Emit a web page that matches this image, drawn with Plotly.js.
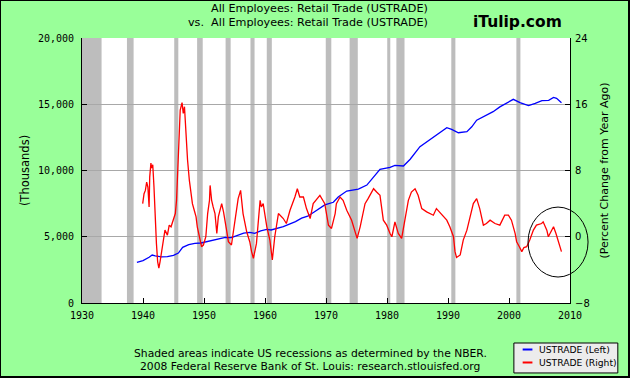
<!DOCTYPE html>
<html>
<head>
<meta charset="utf-8">
<script src="https://cdn.plot.ly/plotly-3.0.1.min.js"></script>
<style>
html,body{margin:0;padding:0;background:#99ff99;}
#wrap{position:relative;width:630px;height:378px;}
#chart{width:630px;height:378px;}
#frame{position:absolute;left:0;top:0;width:630px;height:378px;box-sizing:border-box;border:1px solid #000;border-right-width:2px;border-bottom-width:2px;pointer-events:none;}
</style>
</head>
<body>
<div id="wrap"><div id="chart"></div><div id="frame"></div></div>
<script>
// ---- Data ----
var levelYears = [1939.0,1940.0,1941.0,1941.5,1942.0,1943.0,1944.0,1945.0,1945.8,1946.5,1947.5,1948.5,1949.5,1950.5,1951.5,1952.5,1953.5,1954.5,1955.5,1956.5,1957.5,1958.3,1959.3,1960.3,1961.0,1962.0,1963.0,1964.0,1965.0,1966.0,1967.0,1968.0,1969.0,1969.8,1971.2,1972.0,1973.4,1974.5,1975.3,1976.7,1977.8,1978.85,1980.5,1981.3,1982.7,1983.8,1985.4,1987.0,1988.7,1989.8,1990.6,1991.7,1993.1,1993.9,1994.7,1995.8,1997.4,1998.5,1999.9,2000.7,2001.8,2003.2,2004.3,2005.4,2006.5,2007.3,2007.8,2008.6];
var levelValues = [3070,3200,3450,3620,3550,3480,3500,3600,3770,4200,4400,4500,4530,4650,4750,4850,4960,4930,5100,5280,5330,5260,5450,5560,5510,5620,5760,5950,6140,6400,6550,6850,7150,7400,7600,8000,8450,8530,8600,8900,9500,10090,10240,10390,10340,10850,11800,12300,12850,13230,13100,12850,12930,13300,13800,14060,14440,14800,15200,15370,15120,14900,15070,15270,15300,15520,15450,15120];

var pctYears = [1939.95,1940.17,1940.39,1940.6,1940.8,1941.0,1941.1,1941.3,1941.4,1941.6,1941.8,1942.0,1942.2,1942.4,1942.6,1942.8,1943.0,1943.3,1943.6,1944.0,1944.3,1944.6,1944.9,1945.3,1945.5,1945.7,1945.9,1946.1,1946.4,1946.6,1946.8,1946.9,1947.1,1947.3,1947.6,1947.8,1948.1,1948.4,1948.7,1948.9,1949.3,1949.6,1949.9,1950.3,1950.6,1950.9,1951.0,1951.25,1951.5,1951.8,1952.1,1952.35,1952.9,1953.2,1953.7,1954.0,1954.5,1955.1,1955.6,1956.0,1956.2,1956.4,1957.0,1957.5,1957.8,1958.1,1958.6,1959.2,1959.4,1959.7,1960.3,1960.8,1961.2,1961.6,1962.2,1963.0,1963.5,1964.1,1964.9,1965.3,1965.7,1966.3,1966.8,1967.4,1967.9,1968.5,1969.0,1969.8,1970.4,1970.9,1971.5,1971.7,1972.3,1972.8,1973.4,1974.2,1974.7,1975.1,1975.6,1976.4,1976.9,1977.8,1978.3,1978.85,1979.4,1979.95,1980.5,1980.8,1981.3,1981.85,1982.4,1982.95,1983.5,1984.0,1984.6,1985.1,1985.7,1986.5,1987.6,1988.1,1988.9,1989.8,1990.3,1990.9,1991.15,1991.4,1992.0,1992.5,1993.1,1993.6,1994.15,1994.7,1995.2,1995.8,1996.3,1996.9,1997.7,1998.5,1999.3,1999.9,2000.4,2001.0,2001.25,2001.7,2002.1,2002.45,2002.9,2003.4,2004.0,2004.5,2005.35,2005.6,2006.2,2006.45,2007.0,2007.3,2007.7,2008.1,2008.6];
var pctValues = [4.0,5.2,5.6,6.6,6.0,3.6,7.2,8.9,8.3,8.7,6.0,2.0,-0.8,-3.0,-3.8,-3.0,-2.0,-0.4,0.8,0.2,1.4,1.2,1.8,2.8,4.4,7.7,12.5,15.3,16.2,14.9,15.7,14.1,11.7,9.3,6.8,5.6,4.0,3.2,2.4,1.2,-0.4,-1.2,-1.0,0.0,2.8,4.4,6.2,4.4,3.6,2.8,0.4,2.4,4.0,3.0,0.8,-0.6,-1.0,2.0,4.6,5.6,4.4,2.8,0.6,-0.6,-1.8,-2.6,-0.8,4.4,3.6,4.0,1.2,-0.4,-2.8,0.0,2.8,2.2,1.6,3.2,4.8,5.8,4.8,4.8,3.4,2.2,4.0,4.6,5.0,4.0,1.4,1.0,2.8,4.0,4.8,4.4,3.2,2.0,0.8,-0.2,1.2,4.0,4.6,5.8,5.4,5.0,2.0,1.4,0.4,0.0,1.8,0.4,-0.2,2.0,4.4,5.4,5.8,5.0,3.4,3.0,2.6,3.4,2.8,2.0,1.2,0.0,-1.8,-2.5,-2.2,-0.4,0.8,2.4,4.0,4.6,3.4,1.4,1.6,2.0,1.6,1.4,2.6,2.6,2.0,0.4,-0.6,-1.2,-1.8,-1.3,-1.2,-0.4,0.8,1.4,1.6,1.8,0.8,0.0,0.8,1.2,0.4,-0.6,-1.8];

var recessionStart = [1929.67,1937.37,1945.12,1948.87,1953.54,1957.62,1960.29,1969.96,1973.87,1980.04,1981.54,1990.54,2001.21];
var recessionEnd   = [1933.21,1938.46,1945.79,1949.79,1954.37,1958.29,1961.12,1970.87,1975.21,1980.54,1982.87,1991.21,2001.87];

var xTicks = [1930,1940,1950,1960,1970,1980,1990,2000,2010];
var leftTicks = [0,5000,10000,15000,20000];
var rightTicks = [-8,0,8,16,24];

var seriesNames = ['USTRADE (Left)','USTRADE (Right)'];
var seriesColors = ['#0000ff','#ff0000'];
var titleLines = ['All Employees: Retail Trade (USTRADE)','vs.&nbsp; All Employees: Retail Trade (USTRADE)'];
var footLines = ['Shaded areas indicate US recessions as determined by the NBER.','2008 Federal Reserve Bank of St. Louis: research.stlouisfed.org'];

// ---- Chart ----
var xRange = [1930,2010];
var shapes = recessionStart.map(function(s,i){
  return {type:'rect', xref:'x', yref:'paper', x0:Math.max(s,xRange[0]), x1:recessionEnd[i], y0:0, y1:1,
          fillcolor:'#bdbdbd', line:{width:0}, layer:'below'};
});
shapes.push({type:'circle', xref:'paper', yref:'paper', x0:0.914, x1:1.037, y0:0.098, y1:0.362,
             line:{color:'#000', width:1}, fillcolor:'rgba(0,0,0,0)'});

var sans = 'DejaVu Sans, Verdana, sans-serif';
var mono = 'DejaVu Sans Mono, monospace';

// legend box (drawn manually to match the compact original key)
shapes.push({type:'rect', xref:'paper', yref:'paper', x0:0.885, x1:1.098, y0:-0.264, y1:-0.151,
             fillcolor:'#ececec', line:{color:'#000', width:1}});
var legendY = [-0.1755, -0.2245];
var annotations = [
  {text:titleLines[0], xref:'paper', yref:'paper', x:0.713, y:1.111, xanchor:'right', yanchor:'middle', showarrow:false,
   font:{family:sans, size:11.2, color:'#000'}},
  {text:titleLines[1], xref:'paper', yref:'paper', x:0.713, y:1.057, xanchor:'right', yanchor:'middle', showarrow:false,
   font:{family:sans, size:11.2, color:'#000'}},
  {text:'<b>iTulip.com</b>', xref:'paper', yref:'paper', x:0.892, y:1.062, xanchor:'center', yanchor:'middle', showarrow:false,
   font:{family:sans, size:15.5, color:'#000'}},
  {text:footLines[0], xref:'paper', yref:'paper', x:0.469, y:-0.189, xanchor:'center', yanchor:'middle', showarrow:false,
   font:{family:sans, size:10.75, color:'#000'}},
  {text:footLines[1], xref:'paper', yref:'paper', x:0.468, y:-0.238, xanchor:'center', yanchor:'middle', showarrow:false,
   font:{family:sans, size:10.75, color:'#000'}}
];
seriesNames.forEach(function(n,i){
  shapes.push({type:'line', xref:'paper', yref:'paper', x0:0.903, x1:0.923, y0:legendY[i], y1:legendY[i],
               line:{color:seriesColors[i], width:2}});
  annotations.push({text:n, xref:'paper', yref:'paper', x:0.932, y:legendY[i], xanchor:'left', yanchor:'middle',
                    showarrow:false, font:{family:sans, size:9.2, color:'#000'}});
});

var traces = [
  {x:levelYears, y:levelValues, name:seriesNames[0], type:'scatter', mode:'lines',
   line:{color:seriesColors[0], width:1.3}, yaxis:'y'},
  {x:pctYears, y:pctValues, name:seriesNames[1], type:'scatter', mode:'lines',
   line:{color:seriesColors[1], width:1.3}, yaxis:'y2'}
];

var layout = {
  width:630, height:378,
  paper_bgcolor:'#99ff99', plot_bgcolor:'#ffffff',
  margin:{l:82, r:60, t:38, b:75},
  showlegend:false,
  xaxis:{range:xRange, tickvals:xTicks, ticks:'inside', ticklen:5, tickcolor:'#000', showgrid:false, zeroline:false,
         showline:true, linecolor:'#000', linewidth:1, ticklabelstandoff:3,
         tickfont:{family:mono, size:10, color:'#000'}, fixedrange:true},
  yaxis:{range:[0,20000], tickvals:leftTicks, tickformat:',d', ticks:'inside', ticklen:5, tickcolor:'#000',
         showgrid:true, gridcolor:'#a8a8a8', gridwidth:1, zeroline:false, showline:true, linecolor:'#000', linewidth:1,
         ticklabelstandoff:5, tickfont:{family:mono, size:10, color:'#000'},
         title:{text:'(Thousands)', font:{family:sans, size:11.5, color:'#000'}, standoff:5}},
  yaxis2:{range:[-8,24], tickvals:rightTicks, overlaying:'y', side:'right', ticks:'inside', ticklen:5, tickcolor:'#000',
          showgrid:false, zeroline:false, showline:true, linecolor:'#000', linewidth:1,
          ticklabelstandoff:2, tickfont:{family:sans, size:10, color:'#000'},
          title:{text:'(Percent Change from Year Ago)', font:{family:sans, size:11, color:'#000'}, standoff:11}},
  shapes:shapes,
  annotations:annotations
};

Plotly.newPlot('chart', traces, layout, {staticPlot:true, displayModeBar:false});
</script>
</body>
</html>
